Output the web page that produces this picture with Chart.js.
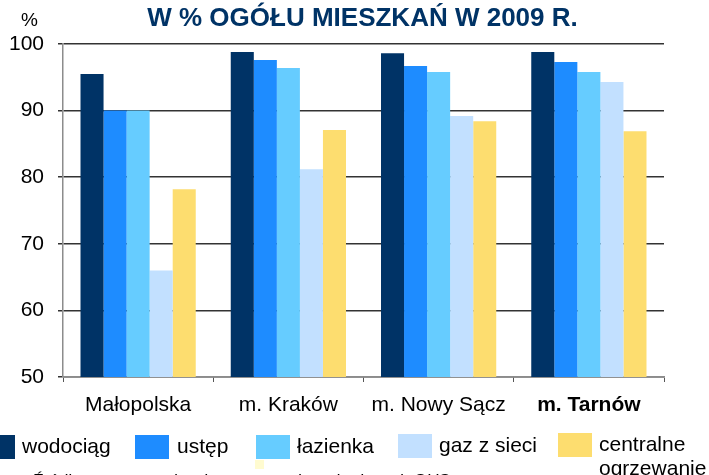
<!DOCTYPE html>
<html>
<head>
<meta charset="utf-8">
<script src="https://cdn.jsdelivr.net/npm/chart.js@4/dist/chart.umd.min.js"></script>
<style>
  html, body { margin: 0; padding: 0; background: #fff; overflow: hidden; }
  body { width: 709px; height: 475px; position: relative; font-family: 'Liberation Sans', Arial, sans-serif; }
  #chart { position: absolute; left: 0; top: 0; }
  .title { position: absolute; left: 0; width: 725px; top: 2px; text-align: center; font-size: 26px; font-weight: bold; color: #003366; }
  .unit { position: absolute; left: 21px; top: 9px; font-size: 19px; color: #000; }
  .box { position: absolute; width: 34px; height: 24px; }
  .lab { position: absolute; font-size: 21px; color: #000; line-height: 24px; }
  .note { position: absolute; left: 32px; top: 471px; font-size: 17px; font-style: italic; color: #000; white-space: nowrap; }
</style>
</head>
<body>
<canvas id="chart" width="709" height="475"></canvas>
<div class="title">W % OGÓŁU MIESZKAŃ W 2009 R.</div>
<div class="unit">%</div>
<div id="legend"></div>
<div class="note">Źródło: opracowanie własne na podstawie danych GUS</div>
<div style="position:absolute;left:255px;top:460px;width:9px;height:9px;background:#FFFBD0"></div>

<script>
const categories = ['Małopolska', 'm. Kraków', 'm. Nowy Sącz', 'm. Tarnów'];
const seriesNames = ['wodociąg', 'ustęp', 'łazienka', 'gaz z sieci', 'centralne ogrzewanie'];
const wodociag = [95.5, 98.8, 98.6, 98.8];
const ustep = [90.0, 97.6, 96.7, 97.3];
const lazienka = [90.0, 96.4, 95.8, 95.8];
const gaz = [66.0, 81.2, 89.2, 94.3];
const centralne = [78.2, 87.1, 88.4, 86.9];
const yTicks = [50, 60, 70, 80, 90, 100];

const colors = ['#003366', '#1E8CFF', '#66CCFF', '#C2E0FF', '#FDDD6F'];
const values = [wodociag, ustep, lazienka, gaz, centralne];

// legend layout (box x, label x) as in the picture
const legendPos = [
  { bx: -19, lx: 22, y: 435 },
  { bx: 135, lx: 177, y: 435 },
  { bx: 256, lx: 297, y: 435 },
  { bx: 398, lx: 439, y: 434 },
  { bx: 558, lx: 599, y: 433 }
];

const legend = document.getElementById('legend');
seriesNames.forEach((name, i) => {
  const p = legendPos[i];
  const b = document.createElement('div');
  b.className = 'box';
  b.style.left = p.bx + 'px';
  b.style.top = p.y + 'px';
  b.style.background = colors[i];
  legend.appendChild(b);
  const l = document.createElement('div');
  l.className = 'lab';
  l.style.left = p.lx + 'px';
  l.style.top = (p.y - 1) + 'px';
  if (i === 4) {
    l.innerHTML = 'centralne<br>ogrzewanie';
  } else {
    l.textContent = name;
  }
  legend.appendChild(l);
});

const ctx = document.getElementById('chart').getContext('2d');
new Chart(ctx, {
  type: 'bar',
  data: {
    labels: categories,
    datasets: seriesNames.map((name, i) => ({
      label: name,
      data: values[i],
      backgroundColor: colors[i],
      borderWidth: 0,
      categoryPercentage: 0.767,
      barPercentage: 1.0
    }))
  },
  options: {
    responsive: false,
    animation: false,
    devicePixelRatio: 1,
    layout: {
      padding: { left: 0, right: 45, top: 44, bottom: 48 }
    },
    plugins: {
      legend: { display: false },
      title: { display: false },
      tooltip: { enabled: false }
    },
    scales: {
      y: {
        min: 50,
        max: 100,
        afterFit: (s) => { s.width = 63; },
        afterBuildTicks: (s) => { s.ticks = yTicks.map(v => ({ value: v })); },
        border: { color: '#8c8c8c', width: 1.5 },
        grid: { color: '#333333', lineWidth: 1.5, tickLength: 5 },
        ticks: {
          padding: 14,
          color: '#000',
          font: { family: "'Liberation Sans', Arial, sans-serif", size: 21 }
        }
      },
      x: {
        afterFit: (s) => { s.height = 50; },
        border: { color: '#8c8c8c', width: 1.5 },
        grid: { drawOnChartArea: false, drawTicks: true, tickLength: 5, color: '#555', offset: true },
        ticks: {
          padding: 11,
          color: '#000',
          font: (c) => ({
            family: "'Liberation Sans', Arial, sans-serif",
            size: 21,
            weight: c.index === 3 ? 'bold' : 'normal'
          })
        }
      }
    }
  }
});
</script>
</body>
</html>
